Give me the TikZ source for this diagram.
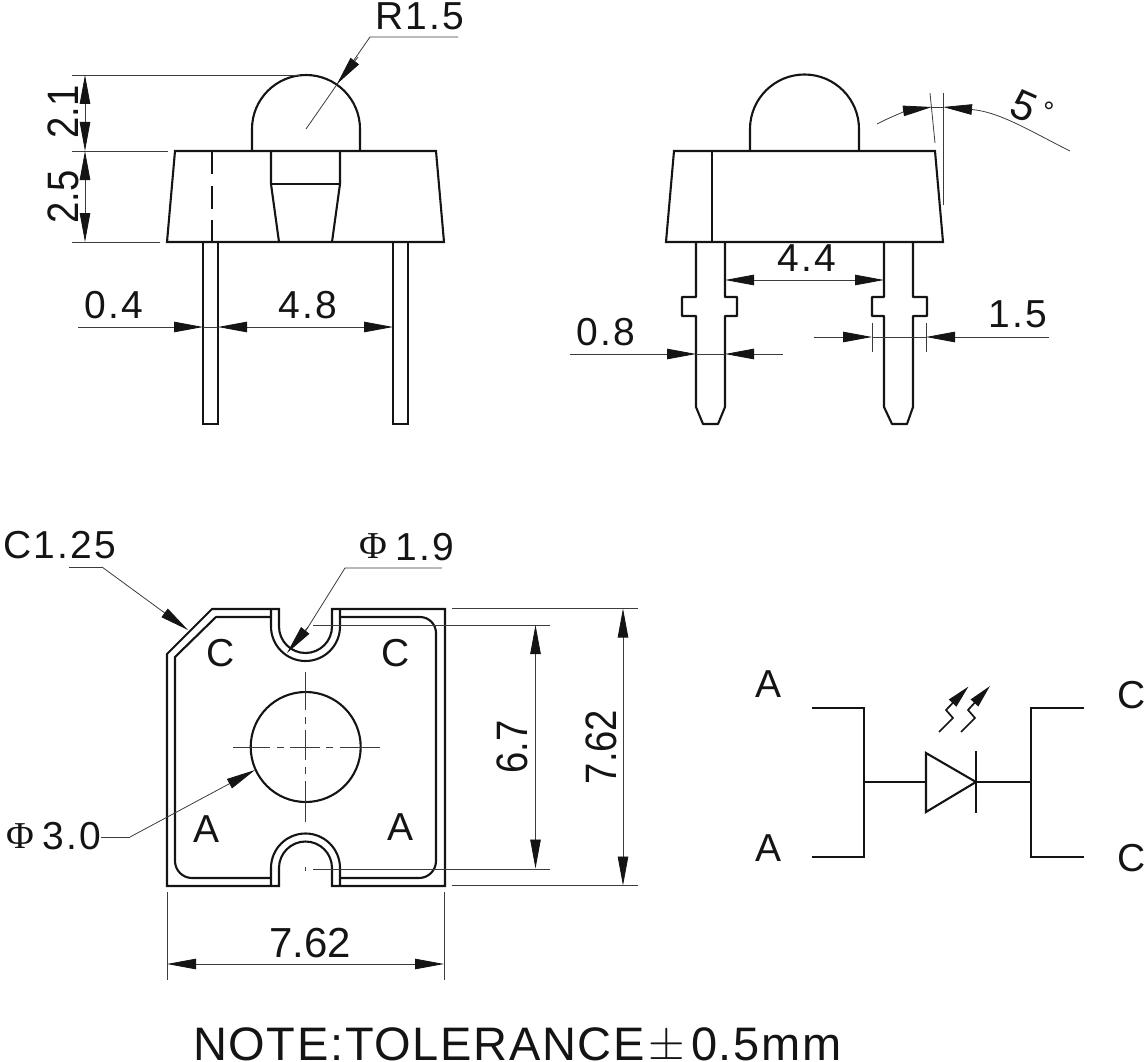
\documentclass[tikz,border=0pt]{standalone}
\usepackage{fontspec}
\setmainfont{Liberation Sans}
\newfontfamily\spacedfont[LetterSpace=6]{Liberation Sans}
\newfontfamily\notefont[LetterSpace=3.5]{Liberation Sans}
\newfontfamily\serifsym{Liberation Serif}
\usetikzlibrary{arrows.meta}
\definecolor{ink}{HTML}{141414}
\definecolor{thinink}{HTML}{3C3C3C}
\newcommand{\tallnum}[1]{\scalebox{0.87}[1]{#1}}
\tikzset{
  outline/.style={draw=ink,line width=2.1pt,line join=miter,line cap=butt},
  fine/.style={draw=thinink,line width=0.8pt},
  tipb/.tip={Triangle[length=29pt,width=10.5pt,color=ink,fill=ink]},
  lab/.style={inner sep=0pt,text=ink,font=\fontsize{39}{39}\selectfont},
  tall/.style={inner sep=0pt,text=ink,rotate=90,font=\fontsize{44}{44}\selectfont},
  slab/.style={inner sep=0pt,text=ink,font=\fontsize{39}{39}\spacedfont},
  phi/.style={inner sep=0pt,text=ink,font=\fontsize{38}{38}\serifsym},
}
\begin{document}
\begin{tikzpicture}[x=1pt,y=-1pt]
\useasboundingbox (0,0) rectangle (1146,1062);
% ---------- left side view
\draw[outline] (252,152) -- (252,129) arc[start angle=180,end angle=360,radius=54] -- (360,152);
\draw[outline] (175,151) -- (436,151) -- (444,242) -- (167,242) -- cycle;
\draw[outline] (212,151) -- (212,174) (212,186) -- (212,209) (212,220) -- (212,242);
\draw[outline] (271,151) -- (271,184) -- (279,242);
\draw[outline] (340,151) -- (340,184) -- (332,242);
\draw[outline] (270,184) -- (341,184);
\draw[outline] (203,242) -- (203,424) -- (218,424) -- (218,242);
\draw[outline] (393,242) -- (393,424) -- (408,424) -- (408,242);
% dims
\draw[fine] (72,75) -- (300,75);
\draw[fine] (72,151) -- (168,151);
\draw[fine] (72,242) -- (160,242);
\draw[fine,{tipb}-{tipb}] (85,75) -- (85,151);
\draw[fine,{tipb}-{tipb}] (85,151) -- (85,242);
\node[tall] (dimTwoOne) at (63,112) {\tallnum{2.1}};
\node[tall] (dimTwoFive) at (63,197) {\tallnum{2.5}};
\draw[fine,-{tipb}] (78,327) -- (203,327);
\draw[fine] (203,327) -- (218,327);
\draw[fine,{tipb}-{tipb}] (218,327) -- (393,327);
\node[slab] (dimZeroFour) at (114,305) {0.4};
\node[slab] (dimFourEight) at (308,305) {4.8};
\draw[fine] (458,37) -- (370,37) -- (306,129);
\draw[fine,-{tipb}] (358,57) -- (337,84);
\node[slab] (dimRadius) at (420,16) {R1.5};
% ---------- right side view
\draw[outline] (750,152) -- (750,129) arc[start angle=180,end angle=360,radius=54.5] -- (859,152);
\draw[outline] (674,151) -- (935,151) -- (943,242) -- (666,242) -- cycle;
\draw[outline] (712,151) -- (712,242);
\draw[outline,line join=round] (696,242) -- (696,297) -- (682,297) -- (682,316) -- (696,316) -- (696,407) -- (703,424) -- (718,424) -- (725,407) -- (725,316) -- (737,316) -- (737,297) -- (725,297) -- (725,242);
\draw[outline,line join=round] (884,242) -- (884,297) -- (872,297) -- (872,316) -- (884,316) -- (884,407) -- (892,424) -- (907,424) -- (913,407) -- (913,316) -- (927,316) -- (927,297) -- (913,297) -- (913,242);
\draw[fine,{tipb}-{tipb}] (725,280) -- (884,280);
\node[slab] (dimFourFour) at (807,258) {4.4};
\draw[fine,-{tipb}] (570,354) -- (696,354);
\draw[fine] (696,354) -- (725,354);
\draw[fine,-{tipb}] (783,354) -- (725,354);
\node[slab] (dimZeroEight) at (606,332) {0.8};
\draw[fine,-{tipb}] (814,337) -- (872,337);
\draw[fine] (872,337) -- (926,337);
\draw[fine,-{tipb}] (1049,337) -- (926,337);
\draw[fine] (872,323) -- (872,352);
\draw[fine] (926,323) -- (926,352);
\node[slab] (dimOneFive) at (1018,314) {1.5};
\draw[fine] (943,93) -- (943,205);
\draw[fine] (930,93) -- (935,143);
\draw[fine,-{tipb}] (877,124) .. controls (892,116) and (910,110) .. (932,107);
\draw[fine] (932,107) -- (943,107);
\draw[fine,-{tipb}] (1070,151) .. controls (1030,131) and (1000,112) .. (943,107);
\node[inner sep=0pt,text=ink,rotate=-24,font=\fontsize{42}{42}\selectfont] (dimFive) at (1024,106) {5};
\node[inner sep=0pt,text=ink,font=\fontsize{28}{28}\selectfont] (dimDeg) at (1049,112) {°};
% ---------- bottom view
\draw[outline] (212,609) -- (279,609) -- (279,626.5) arc[start angle=180,end angle=0,radius=26.5] -- (332,609) -- (445,609) -- (445,886) -- (332,886) -- (332,868) arc[start angle=360,end angle=180,radius=26.5] -- (279,886) -- (167,886) -- (167,654) -- cycle;
\draw[outline] (271,617) -- (216,617) -- (175,657) -- (175,861) arc[start angle=180,end angle=90,radius=17] -- (271,878);
\draw[outline] (271,609) -- (271,626.5) arc[start angle=180,end angle=0,radius=34.5] -- (340,609);
\draw[outline] (340,617) -- (420,617) arc[start angle=270,end angle=360,radius=16] -- (436,861) arc[start angle=0,end angle=90,radius=17] -- (340,878);
\draw[outline] (271,886) -- (271,868) arc[start angle=180,end angle=360,radius=34.5] -- (340,886);
\draw[outline] (305.7,747) circle[radius=55];
\draw[fine] (233,747) -- (270,747) (277,747) -- (284,747) (290,747) -- (320,747) (326,747) -- (333,747) (340,747) -- (380,747);
\draw[fine] (305.5,672) -- (305.5,710) (305.5,717) -- (305.5,724) (305.5,730) -- (305.5,760) (305.5,767) -- (305.5,774) (305.5,781) -- (305.5,822);
\draw[fine] (305.5,867) -- (305.5,871);
\node[lab] (letC1) at (221,653) {C};
\node[lab] (letC2) at (396,653) {C};
\node[lab] (letA1) at (207,829) {A};
\node[lab] (letA2) at (401,827) {A};
% bottom view dims
\draw[fine] (452,608.5) -- (638,608.5);
\draw[fine] (452,885.5) -- (638,885.5);
\draw[fine] (313,625) -- (550,625);
\draw[fine] (313,869) -- (550,869);
\draw[fine,{tipb}-{tipb}] (535.5,625) -- (535.5,868.5);
\draw[fine,{tipb}-{tipb}] (623,608.5) -- (623,885.5);
\node[tall] (dimSixSeven) at (512,747) {\tallnum{6.7}};
\node[tall] (dimSevenA) at (601,747) {\tallnum{7.62}};
\draw[fine] (167,892) -- (167,980);
\draw[fine] (444,892) -- (444,980);
\draw[fine,{tipb}-{tipb}] (167,964) -- (444,964);
\node[inner sep=0pt,text=ink,font=\fontsize{42}{42}\selectfont] (dimSevenB) at (310,943) {7.62};
\draw[fine] (69,567) -- (102,567);
\draw[fine,-{tipb}] (102,567) -- (188,630);
\node[slab] (dimChamfer) at (60,545) {C1.25};
\draw[fine] (442,568) -- (345,568) -- (305,632);
\draw[fine,-{tipb}] (308,627) -- (287,653);
\node[phi] (phiA) at (373,546) {Φ};
\node[slab] (dimOneNine) at (425,547) {1.9};
\draw[fine] (101,837) -- (130,837);
\draw[fine,-{tipb}] (130,837) -- (255,770);
\node[phi] (phiB) at (20,836) {Φ};
\node[slab] (dimThree) at (72,836) {3.0};
% ---------- symbol
\draw[outline] (812,708) -- (864,708) -- (864,857) -- (812,857);
\draw[outline] (1084,708) -- (1031,708) -- (1031,857) -- (1084,857);
\draw[outline] (864,782) -- (926,782);
\draw[outline] (976,782) -- (1031,782);
\draw[outline] (926,753) -- (926,812) -- (976,782) -- cycle;
\draw[outline] (976,751) -- (976,813);
\tikzset{lighttip/.tip={Triangle[length=23pt,width=10pt,color=ink,fill=ink]}}
\draw[draw=ink,line width=1.7pt,-{lighttip}] (939,732) -- (953,718) -- (946,710) -- (968.5,686.5);
\draw[draw=ink,line width=1.7pt,-{lighttip}] (961,732) -- (975,718) -- (968,710) -- (990,686);
\node[lab] (symA1) at (768,684) {A};
\node[lab] (symA2) at (768,848) {A};
\node[lab] (symC1) at (1132,695) {C};
\node[lab] (symC2) at (1132,858) {C};
% ---------- note
\node[inner sep=0pt,text=ink,font=\fontsize{47}{47}\notefont,anchor=base west] (noteText) at (193,1060) {NOTE:TOLERANCE\hspace{4pt}{\fontsize{10}{12}\selectfont\raisebox{0.85pt}{\scalebox{4.7}{$\pm$}}}\hspace{6pt}0.5mm};
\end{tikzpicture}
\end{document}
